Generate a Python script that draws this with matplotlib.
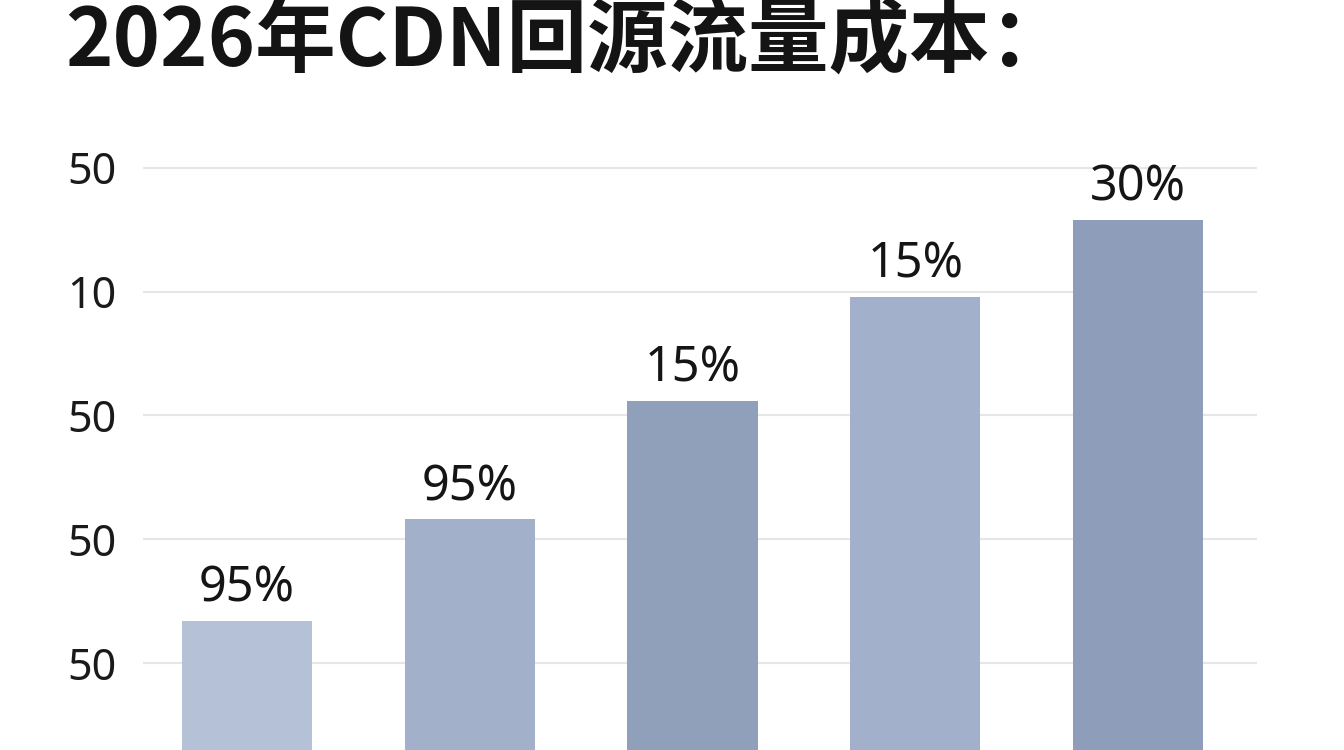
import matplotlib
matplotlib.use("Agg")
import matplotlib.pyplot as plt

# -------------------------------------------------
# Data
# -------------------------------------------------

title = "2026年CDN回源流量成本："

bar_values = [67, 108, 156, 198, 229]
bar_labels = ["95%", "95%", "15%", "15%", "30%"]

tick_values = [50, 100, 150, 200, 250]
tick_labels = ["50", "50", "50", "10", "50"]

bar_colors = ["#b5c1d7", "#a3b0c9", "#909fba", "#a2b0cb", "#8e9dba"]

# -------------------------------------------------
# Figure
# -------------------------------------------------

plt.rcParams["font.family"] = ["Noto Sans", "Noto Sans CJK SC", "DejaVu Sans"]

fig = plt.figure(figsize=(13.44, 7.5), dpi=100)
fig.patch.set_facecolor("white")

ax = fig.add_axes([143 / 1344, 0.0, (1257 - 143) / 1344, 1 - 130 / 750])

x = list(range(len(bar_values)))

ax.bar(x, bar_values, width=0.584, color=bar_colors, zorder=2)

for xi, val, lab in zip(x, bar_values, bar_labels):
    ax.annotate(
        lab,
        xy=(xi, val),
        xytext=(0, 14),
        textcoords="offset points",
        ha="center",
        va="baseline",
        fontsize=35,
        color="#151515",
    )

ax.set_xlim(-0.467, 4.534)
ax.set_ylim(14.85, 265.35)

ax.set_yticks(tick_values)
ax.set_yticklabels(tick_labels)
ax.tick_params(axis="y", length=0, pad=19, labelsize=31, labelcolor="#1a1a1a")
ax.set_xticks([])

ax.grid(axis="y", color="#e6e6e6", linewidth=1.5, zorder=0)
for side in ["top", "right", "bottom", "left"]:
    ax.spines[side].set_visible(False)

# -------------------------------------------------
# Title
# -------------------------------------------------

fig.text(
    65 / 1344,
    1 - 66 / 750,
    title,
    ha="left",
    va="baseline",
    fontsize=58,
    fontweight="bold",
    family=["Noto Sans CJK SC", "DejaVu Sans"],
    color="#141414",
)

fig.savefig("out.png", dpi=100, facecolor="white")
